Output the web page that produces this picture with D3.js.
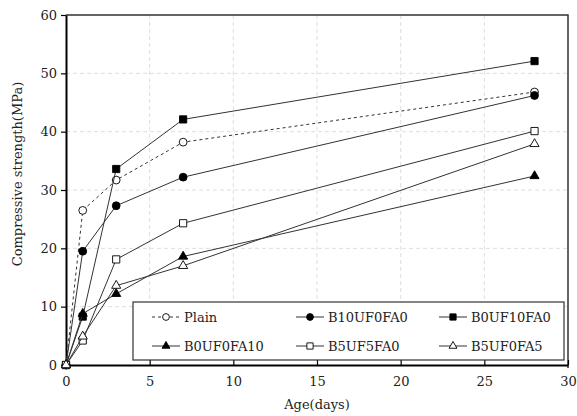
<!DOCTYPE html>
<html>
<head>
<meta charset="utf-8">
<script src="https://cdn.jsdelivr.net/npm/d3@7"></script>
<style>
  body { margin: 0; background: #fff; }
  text { font-family: "DejaVu Serif", serif; fill: #222; }
</style>
</head>
<body>
<svg id="chart" width="577" height="416"></svg>
<script>
// data
var ages = [0, 1, 3, 7, 28];
var names = ["Plain", "B10UF0FA0", "B0UF10FA0", "B0UF0FA10", "B5UF5FA0", "B5UF0FA5"];
var plain     = [0, 26.5, 31.7, 38.2, 46.8];
var b10uf0fa0 = [0, 19.5, 27.3, 32.2, 46.2];
var b0uf10fa0 = [0, 8.3, 33.6, 42.1, 52.1];
var b0uf0fa10 = [0, 8.8, 12.2, 18.6, 32.4];
var b5uf5fa0  = [0, 4.2, 18.1, 24.3, 40.1];
var b5uf0fa5  = [0, 4.9, 13.6, 17.0, 37.9];
var xTicks = [0, 5, 10, 15, 20, 25, 30];
var yTicks = [0, 10, 20, 30, 40, 50, 60];

// marker look per series
var seriesList = [
  { name: names[0], vals: plain,     shape: d3.symbolCircle,   fill: "#fff", dash: "3,3" },
  { name: names[1], vals: b10uf0fa0, shape: d3.symbolCircle,   fill: "#000", dash: null },
  { name: names[2], vals: b0uf10fa0, shape: d3.symbolSquare,   fill: "#000", dash: null },
  { name: names[3], vals: b0uf0fa10, shape: d3.symbolTriangle, fill: "#000", dash: null },
  { name: names[4], vals: b5uf5fa0,  shape: d3.symbolSquare,   fill: "#fff", dash: null },
  { name: names[5], vals: b5uf0fa5,  shape: d3.symbolTriangle, fill: "#fff", dash: null }
];

var svg = d3.select("#chart");
var pLeft = 66, pRight = 568, pTop = 15, pBottom = 365;

var x = d3.scaleLinear().domain([0, 30]).range([pLeft, pRight]);
var y = d3.scaleLinear().domain([0, 60]).range([pBottom, pTop]);

// grid
var grid = svg.append("g");
grid.selectAll(".gx").data(xTicks.slice(1, -1)).enter().append("line")
  .attr("x1", d => x(d)).attr("x2", d => x(d))
  .attr("y1", pTop).attr("y2", pBottom)
  .attr("stroke", "#dedede").attr("stroke-dasharray", "4,3");
grid.selectAll(".gy").data(yTicks.slice(1, -1)).enter().append("line")
  .attr("x1", pLeft).attr("x2", pRight)
  .attr("y1", d => y(d)).attr("y2", d => y(d))
  .attr("stroke", "#dedede").attr("stroke-dasharray", "4,3");

// frame top / right
svg.append("path")
  .attr("d", "M" + pLeft + "," + pTop + "H" + pRight + "V" + (pBottom + 3))
  .attr("fill", "none").attr("stroke", "#333").attr("stroke-width", 1.5);

// axes
var xAxis = svg.append("g").attr("transform", "translate(0," + pBottom + ")")
  .call(d3.axisBottom(x).tickValues(xTicks).tickSizeInner(-5).tickSizeOuter(0).tickPadding(12));
var yAxis = svg.append("g").attr("transform", "translate(" + pLeft + ",0)")
  .call(d3.axisLeft(y).tickValues(yTicks).tickSizeInner(5).tickSizeOuter(0).tickPadding(4));
[xAxis, yAxis].forEach(function(a) {
  a.select(".domain").attr("stroke", "#000").attr("stroke-width", 2);
  a.selectAll(".tick line").attr("stroke", "#000").attr("stroke-width", 1.2);
  a.selectAll("text").attr("font-size", 13).attr("font-family", "DejaVu Serif").attr("fill", "#222");
});

svg.append("text").attr("x", (pLeft + pRight) / 2).attr("y", 409)
  .attr("text-anchor", "middle").attr("font-size", 13).text("Age(days)");
svg.append("text").attr("transform", "translate(22,174) rotate(-90)")
  .attr("text-anchor", "middle").attr("font-size", 13).text("Compressive strength(MPa)");

// lines and markers
var line = d3.line().x((d, i) => x(ages[i])).y(d => y(d));
function symSize(s) { return s === d3.symbolSquare ? 52 : (s === d3.symbolTriangle ? 36 : 48); }

var series = svg.selectAll(".series").data(seriesList).enter().append("g");
series.append("path")
  .attr("d", d => line(d.vals))
  .attr("fill", "none").attr("stroke", "#333").attr("stroke-width", 1)
  .attr("stroke-dasharray", d => d.dash);
series.each(function(s) {
  d3.select(this).selectAll("path.m").data(s.vals).enter().append("path")
    .attr("class", "m")
    .attr("transform", (d, i) => "translate(" + x(ages[i]) + "," + y(d) + ")")
    .attr("d", d3.symbol().type(s.shape).size(symSize(s.shape)))
    .attr("fill", s.fill).attr("stroke", "#000").attr("stroke-width", 0.9);
});

// legend
var lg = svg.append("g");
lg.append("rect").attr("x", 133).attr("y", 302).attr("width", 431).attr("height", 58)
  .attr("fill", "#fff").attr("stroke", "#333").attr("stroke-width", 1.2);
var colX = [152, 296, 439], rowY = [317, 346];
seriesList.forEach(function(s, i) {
  var cx = colX[i % 3], cy = rowY[Math.floor(i / 3)];
  var it = lg.append("g").attr("transform", "translate(" + cx + "," + cy + ")");
  it.append("line").attr("x1", 0).attr("x2", 28).attr("y1", 0).attr("y2", 0)
    .attr("stroke", "#333").attr("stroke-width", 1).attr("stroke-dasharray", s.dash);
  it.append("path").attr("transform", "translate(14,0)")
    .attr("d", d3.symbol().type(s.shape).size(symSize(s.shape) * 0.75))
    .attr("fill", s.fill).attr("stroke", "#000").attr("stroke-width", 0.9);
  it.append("text").attr("x", 32).attr("y", 5).attr("font-size", 13).text(s.name);
});
</script>
</body>
</html>
